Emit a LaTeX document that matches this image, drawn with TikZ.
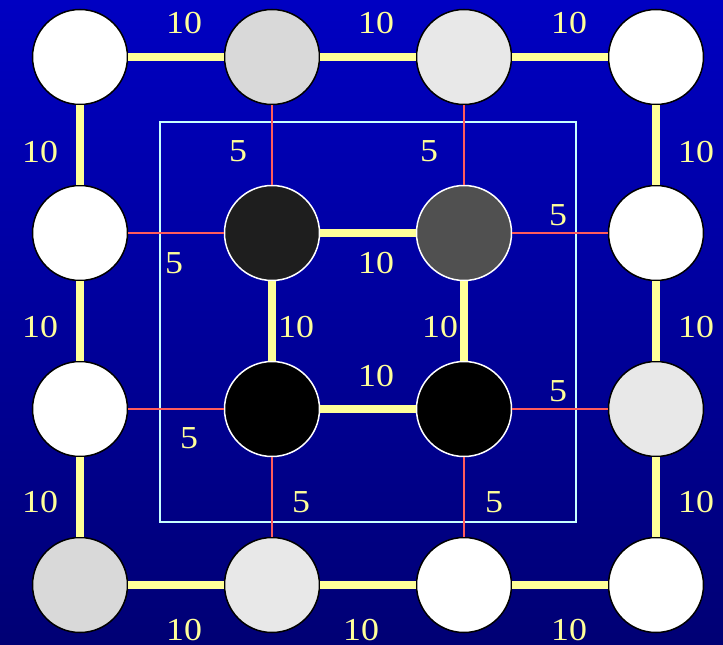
\documentclass[tikz,border=0pt]{standalone}
\usepackage{fontspec}
\setmainfont{Liberation Serif}
\newfontfamily\lblfont[FakeStretch=1.12]{Liberation Serif}
\definecolor{bgtop}{RGB}{0,0,194}
\definecolor{bgbot}{RGB}{0,0,116}
\definecolor{yel}{RGB}{255,255,153}
\definecolor{redl}{RGB}{255,92,92}
\definecolor{boxc}{RGB}{200,255,255}
\definecolor{ga}{RGB}{217,217,217}
\definecolor{gb}{RGB}{232,232,232}
\definecolor{dk}{RGB}{30,30,30}
\definecolor{md}{RGB}{80,80,80}
\begin{document}
\begin{tikzpicture}[x=1pt,y=-1pt,
  outer/.style={circle,draw=black,line width=1.5pt,minimum size=95pt,inner sep=0pt},
  inner/.style={circle,draw=white,line width=1.5pt,minimum size=95pt,inner sep=0pt},
  heavy/.style={draw=yel,line width=8pt},
  light/.style={draw=redl,line width=2pt},
  lbl/.style={text=yel,font=\lblfont\fontsize{32}{32}\selectfont,inner sep=0pt}]
\shade[top color=bgtop,bottom color=bgbot] (0,0) rectangle (723,645);
\useasboundingbox (0,0) rectangle (723,645);
\draw[boxc,line width=2pt] (160,122) rectangle (576,522);
% nodes
\node[outer,fill=white] (n11) at (80,57) {};
\node[outer,fill=ga] (n12) at (272,57) {};
\node[outer,fill=gb] (n13) at (464,57) {};
\node[outer,fill=white] (n14) at (656,57) {};
\node[outer,fill=white] (n21) at (80,233) {};
\node[inner,fill=dk] (n22) at (272,233) {};
\node[inner,fill=md] (n23) at (464,233) {};
\node[outer,fill=white] (n24) at (656,233) {};
\node[outer,fill=white] (n31) at (80,409) {};
\node[inner,fill=black] (n32) at (272,409) {};
\node[inner,fill=black] (n33) at (464,409) {};
\node[outer,fill=gb] (n34) at (656,409) {};
\node[outer,fill=ga] (n41) at (80,585) {};
\node[outer,fill=gb] (n42) at (272,585) {};
\node[outer,fill=white] (n43) at (464,585) {};
\node[outer,fill=white] (n44) at (656,585) {};
% heavy edges
\foreach \a/\b in {n11/n12,n12/n13,n13/n14,n11/n21,n21/n31,n31/n41,n14/n24,n24/n34,n34/n44,n41/n42,n42/n43,n43/n44,n22/n23,n22/n32,n23/n33,n32/n33}
  \draw[heavy] (\a) -- (\b);
% light edges
\foreach \a/\b in {n12/n22,n13/n23,n21/n22,n23/n24,n31/n32,n33/n34,n32/n42,n33/n43}
  \draw[light] (\a) -- (\b);
% labels
\node[lbl] (l1) at (184,23) {10};
\node[lbl] (l2) at (376,23) {10};
\node[lbl] (l3) at (569,23) {10};
\node[lbl] (l4) at (40,152) {10};
\node[lbl] (l5) at (40,327) {10};
\node[lbl] (l6) at (40,502) {10};
\node[lbl] (l7) at (696,152) {10};
\node[lbl] (l8) at (696,327) {10};
\node[lbl] (l9) at (696,502) {10};
\node[lbl] (l10) at (184,630) {10};
\node[lbl] (l11) at (361,630) {10};
\node[lbl] (l12) at (569,630) {10};
\node[lbl] (l13) at (238,151) {5};
\node[lbl] (l14) at (429,151) {5};
\node[lbl] (l15) at (558,215) {5};
\node[lbl] (l16) at (174,263) {5};
\node[lbl] (l17) at (376,263) {10};
\node[lbl] (l18) at (296,327) {10};
\node[lbl] (l19) at (440,327) {10};
\node[lbl] (l20) at (376,376) {10};
\node[lbl] (l21) at (558,391) {5};
\node[lbl] (l22) at (189,438) {5};
\node[lbl] (l23) at (301,502) {5};
\node[lbl] (l24) at (494,502) {5};
\end{tikzpicture}
\end{document}
